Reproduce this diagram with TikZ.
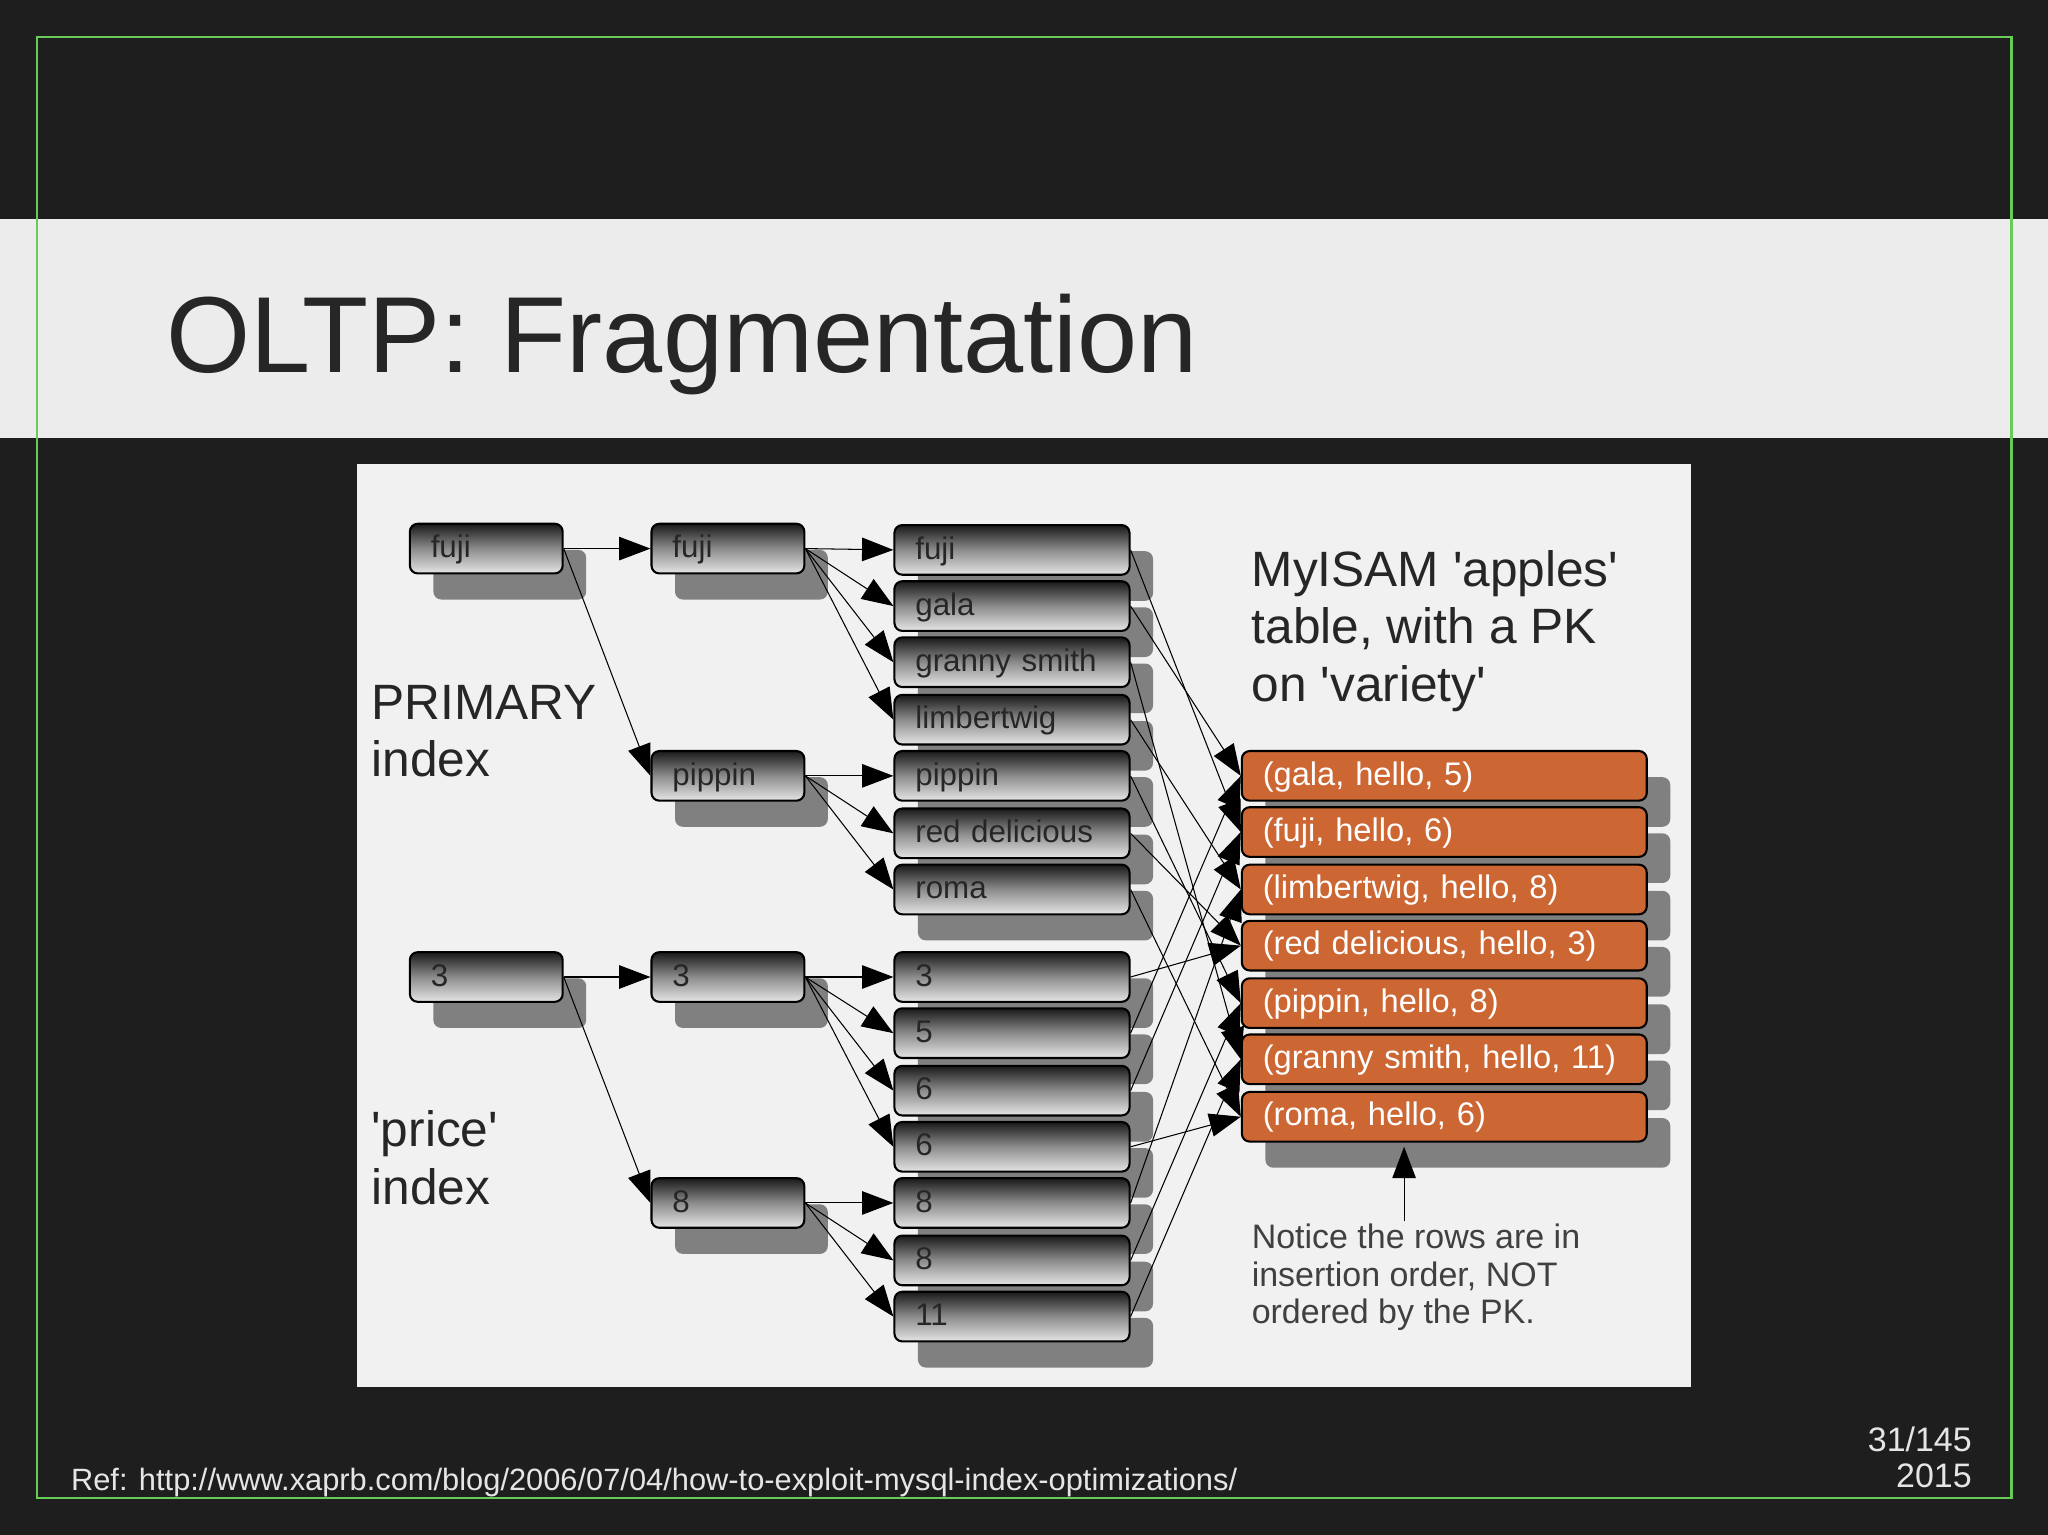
\documentclass[tikz,border=0pt]{standalone}
\usepackage{fontspec}
\setmainfont{Liberation Sans}[Ligatures=TeXOff]
\usetikzlibrary{arrows.meta,shadows,calc}
\definecolor{bgdark}{HTML}{1E1E1E}
\definecolor{band}{HTML}{ECECEC}
\definecolor{panel}{HTML}{F1F1F1}
\definecolor{orng}{HTML}{CC6633}
\definecolor{frame}{HTML}{66CC55}
\tikzset{
 shd/.style={drop shadow={shadow xshift=9pt,shadow yshift=-10pt,fill=black!50,opacity=1}},
 gbox/.style={draw=black,thick,rounded corners=3pt,top color=black!90,bottom color=black!10,middle color=black!45,
   minimum height=19pt,anchor=west,text height=9pt,text depth=2pt,inner xsep=8pt,font=\fontsize{12}{14}\selectfont,text=black!85,shd,align=left},
 kbox/.style={gbox,minimum width=58.5pt,text width=42.5pt},
 lbox/.style={gbox,minimum width=90pt,text width=74pt},
 obox/.style={draw=black,thick,rounded corners=3pt,fill=orng,minimum width=155pt,minimum height=19pt,anchor=west,
   text height=9pt,text depth=2pt,inner xsep=8pt,text width=139pt,align=left,text=white,font=\fontsize{12.5}{14}\selectfont,shd},
 arr/.style={-{Triangle[length=12pt,width=9pt]},thin,black},
 big/.style={font=\fontsize{19}{22}\selectfont,align=left,anchor=north west,inner sep=0pt,text=black!85}
}
\begin{document}
\begin{tikzpicture}[x={(0.5pt,0)},y={(0,-0.5pt)}]
\fill[bgdark] (0,0) rectangle (1568,1175);
\useasboundingbox (0,0) rectangle (1568,1175);
\fill[band] (0,168) rectangle (1568,335);
\draw[frame,line width=0.8pt] (28,28) rectangle (1540,1147);
\node[anchor=base west,inner sep=0pt,font=\fontsize{41.4}{46}\selectfont,text=black!85] (title) at (127,285) {OLTP: Fragmentation};
\fill[panel] (273,355) rectangle (1295,1062);
% column 1
\node[kbox] (c1a) at (313,420) {fuji};
\node[kbox] (c1b) at (313,748) {3};
% column 2
\node[kbox] (c2a) at (498,420) {fuji};
\node[kbox] (c2b) at (498,594) {pippin};
\node[kbox] (c2c) at (498,748) {3};
\node[kbox] (c2d) at (498,921) {8};
% leaves
\foreach \n/\y/\t in {l1/421/fuji,l2/464/gala,l3/507/granny smith,l4/551/limbertwig,l5/594/pippin,l6/638/red delicious,l7/681/roma,
  p1/748/3,p2/791/5,p3/835/6,p4/878/6,p5/921/8,p6/965/8,p7/1008/11}
  \node[lbox] (\n) at (684,\y) {\t};
% rows
\foreach \n/\y/\t in {r1/594/{(gala, hello, 5)},r2/637/{(fuji, hello, 6)},r3/681/{(limbertwig, hello, 8)},r4/724/{(red delicious, hello, 3)},
  r5/768/{(pippin, hello, 8)},r6/811/{(granny smith, hello, 11)},r7/855/{(roma, hello, 6)}}
  \node[obox] (\n) at (950,\y) {\t};
% texts
\node[big] (t1) at (958,421) {MyISAM 'apples'\\table, with a PK\\on 'variety'};
\node[big] (t2) at (284,524) {PRIMARY\\index};
\node[big] (t3) at (284,850) {'price'\\index};
\node[font=\fontsize{13}{14.3}\selectfont,align=left,anchor=north west,inner sep=0pt,text=black!75] (note) at (958,937) {Notice the rows are in\\insertion order, NOT\\ordered by the PK.};
\coordinate (nt) at (1075,935);
\draw[arr] (nt) -- (1075,878);
% arrows
\draw[arr] (c1a.east) -- (c2a.west);
\draw[arr] (c1a.east) -- (c2b.west);
\draw[arr] (c1b.east) -- (c2c.west);
\draw[arr] (c1b.east) -- (c2d.west);
\foreach \s/\d in {c2a/l1,c2a/l2,c2a/l3,c2a/l4,c2b/l5,c2b/l6,c2b/l7,c2c/p1,c2c/p2,c2c/p3,c2c/p4,c2d/p5,c2d/p6,c2d/p7}
  \draw[arr] (\s.east) -- (\d.west);
\foreach \s/\d in {l1/r2,l2/r1,l3/r6,l4/r3,l5/r5,l6/r4,l7/r7,p1/r4,p2/r1,p3/r2,p4/r7,p5/r3,p6/r5,p7/r6}
  \draw[arr] (\s.east) -- (\d.west);
% footer
\node[anchor=base west,inner sep=0pt,font=\fontsize{11.8}{13}\selectfont,text=white!90!black] (ref) at (54,1141) {Ref: http://www.xaprb.com/blog/2006/07/04/how-to-exploit-mysql-index-optimizations/};
\node[anchor=base east,inner sep=0pt,font=\fontsize{13}{14}\selectfont,text=white!90!black,align=right] (pg) at (1510,1111) {31/145};
\node[anchor=base east,inner sep=0pt,font=\fontsize{13}{14}\selectfont,text=white!90!black] (yr) at (1510,1139) {2015};
\end{tikzpicture}
\end{document}
